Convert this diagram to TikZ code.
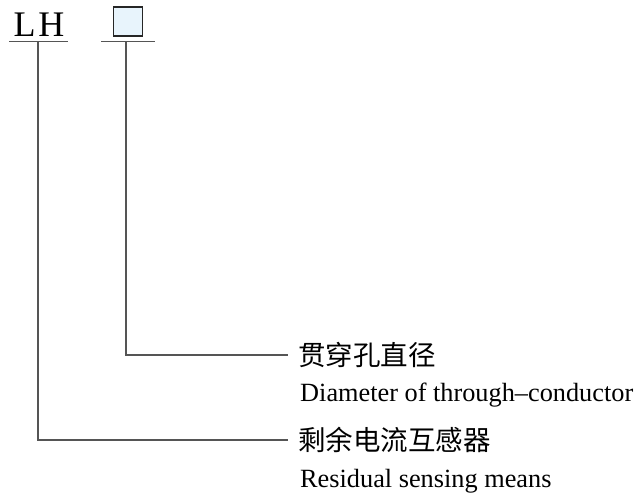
\documentclass[tikz,border=0pt]{standalone}
\usepackage{fontspec}
\usepackage{tikz}
\usetikzlibrary{positioning}
\setmainfont{Liberation Serif}
\newfontfamily\cjk{Noto Sans CJK SC}
\definecolor{linegray}{HTML}{555555}
\definecolor{boxblue}{HTML}{E8F4FC}

\begin{document}
\begin{tikzpicture}[x=1pt, y=-1pt,
    code node/.style={inner sep=0pt, font=\fontsize{36}{40}\selectfont},
    box node/.style={draw=black!85, line width=1.1pt, fill=boxblue, minimum size=29pt, inner sep=0pt},
    zh node/.style={anchor=west, inner sep=0pt, font=\cjk\fontsize{27.5}{30}\selectfont},
    en node/.style={anchor=base west, inner sep=0pt, font=\fontsize{26.3}{30}\selectfont},
    lead/.style={draw=linegray, line width=1.2pt}]
  \useasboundingbox (0,0) rectangle (642,493);

  \node[code node, anchor=base] (lh) at (39,36) {L\hspace{3pt}H};
  \node[box node] (box) at (128,21.5) {};

  \coordinate (lhbar) at (38,41.7);
  \coordinate (boxbar) at (126,41.7);
  \draw[lead] ([xshift=-29pt]lhbar) -- ([xshift=30pt]lhbar);
  \draw[lead] ([xshift=-25pt]boxbar) -- ([xshift=29pt]boxbar);

  \node[zh node] (dia) at (298,355) {贯穿孔直径};
  \node[en node] (dia en) at (300,401) {Diameter of through–conductor};
  \node[zh node] (res) at (298,440) {剩余电流互感器};
  \node[en node] (res en) at (300,487) {Residual sensing means};

  % leaders from the code letters to the texts
  \draw[lead] (boxbar) |- ([xshift=-10pt]dia.west);
  \draw[lead] (lhbar) |- ([xshift=-10pt]res.west);
\end{tikzpicture}
\end{document}
